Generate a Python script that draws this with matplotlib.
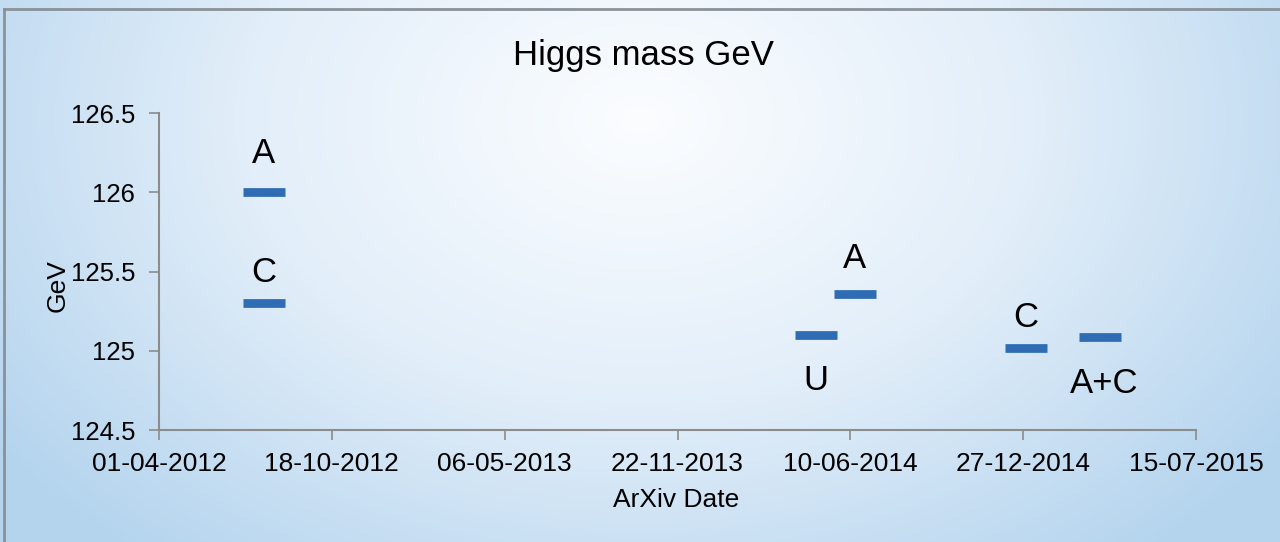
import numpy as np
import pandas as pd
import matplotlib.pyplot as plt
import matplotlib.dates as mdates
from matplotlib.colors import LinearSegmentedColormap
from matplotlib.lines import Line2D

plt.rcParams['font.family'] = ['Liberation Sans', 'DejaVu Sans']

# Higgs mass measurements by arXiv date
dates = pd.to_datetime(["2012-07-31", "2012-07-31", "2014-05-01",
                        "2014-06-15", "2014-12-30", "2015-03-26"])
masses = [126.0, 125.3, 125.1, 125.36, 125.02, 125.09]
labels = ["A", "C", "U", "A", "C", "A+C"]
tick_dates = pd.date_range("2012-04-01", periods=7, freq="200D")
y_ticks = [124.5, 125, 125.5, 126, 126.5]
y_tick_labels = ["124.5", "125", "125.5", "126", "126.5"]

fig = plt.figure(figsize=(12.8, 5.42), dpi=100)

# background gradient
bg = fig.add_axes([0, 0, 1, 1], zorder=-10)
xx, yy = np.meshgrid(np.linspace(0, 1, 400), np.linspace(0, 1, 200))
r = np.sqrt(((xx - 0.5) / 0.62) ** 2 + ((yy - 0.22) / 1.05) ** 2)
cmap = LinearSegmentedColormap.from_list("bg", ["#fbfdff", "#e2eef9", "#b4d4ee"])
bg.imshow(np.clip(r, 0, 1), cmap=cmap, aspect="auto", extent=[0, 1, 0, 1], origin="upper")
bg.axis("off")
fig.add_artist(Line2D([0.003, 1.0], [0.984, 0.984], color="#8a9198", lw=2))
fig.add_artist(Line2D([0.003, 0.003], [0.0, 0.984], color="#8a9198", lw=2))

ax = fig.add_axes([0.1242, 0.2066, 0.8102, 0.5849])
ax.patch.set_alpha(0)

ax.plot(dates, masses, linestyle="none", marker="_", markersize=30,
        markeredgewidth=6.3, color="#2f6cb3")

# label offsets in points (above/below each mark)
label_dy = [28, 22, -33, 25, 22, -34]
label_dx = [0, 0, 0, 0, 0, 3]
for d, m, lab, dx, dy in zip(dates, masses, labels, label_dx, label_dy):
    ax.annotate(lab, (d, m), xytext=(dx, dy), textcoords="offset points",
                ha="center", va="center", fontsize=25)

ax.set_xlim(tick_dates[0], tick_dates[-1])
ax.set_ylim(124.5, 126.5)
ax.set_xticks(tick_dates)
ax.xaxis.set_major_formatter(mdates.DateFormatter("%d-%m-%Y"))
ax.set_yticks(y_ticks)
ax.set_yticklabels(y_tick_labels)
ax.tick_params(length=7, width=1.2, color="#8c8c8c")
ax.tick_params(axis="x", labelsize=19, pad=9)
ax.tick_params(axis="y", labelsize=18.5, pad=10)

for s in ["top", "right"]:
    ax.spines[s].set_visible(False)
for s in ["left", "bottom"]:
    ax.spines[s].set_color("#8c8c8c")
    ax.spines[s].set_linewidth(1.5)

fig.text(0.528, 0.077, "ArXiv Date", fontsize=19, ha="center", va="center")
fig.text(0.045, 0.474, "GeV", rotation=90, fontsize=19, ha="center", va="center")
fig.text(0.503, 0.897, "Higgs mass GeV", fontsize=25, ha="center", va="center")

fig.savefig("out.png", dpi=100)
